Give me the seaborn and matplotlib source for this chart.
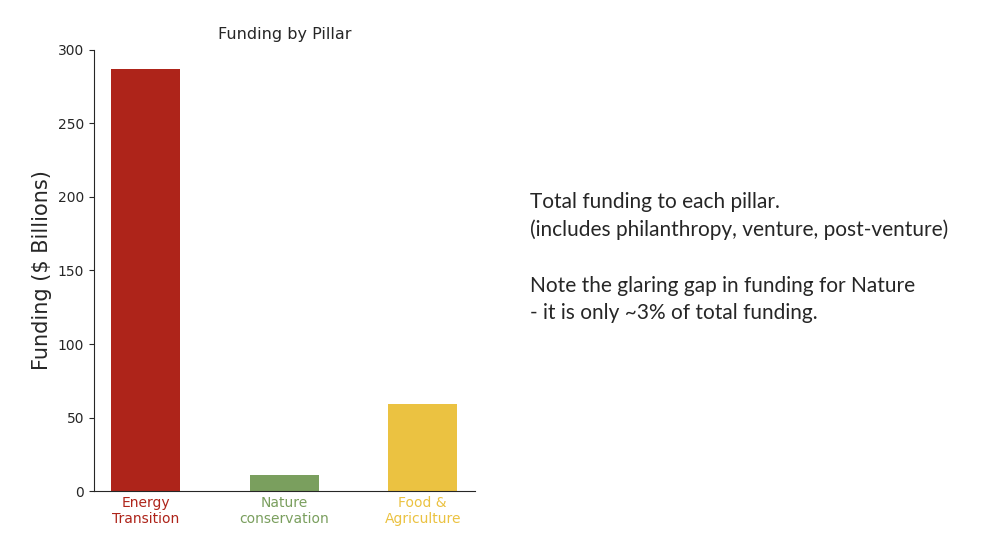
import matplotlib
matplotlib.use("Agg")
import matplotlib.pyplot as plt
import seaborn as sns
import pandas as pd

# ------------------------
# DATA
# ------------------------
pillars = ["Energy\nTransition", "Nature\nconservation", "Food &\nAgriculture"]
funding = [287, 11, 59]
colors = ["#AE241A", "#7A9F5E", "#EBC241"]

note_lines = [
    "Total funding to each pillar.",
    "(includes philanthropy, venture, post-venture)",
    "",
    "Note the glaring gap in funding for Nature",
    "- it is only ~3% of total funding.",
]

df = pd.DataFrame({"pillar": pillars, "funding": funding})

# ------------------------
# PLOT
# ------------------------
sns.set_style("ticks")
plt.rcParams["font.family"] = ["DejaVu Sans"]

fig = plt.figure(figsize=(9.81, 5.52), dpi=100)
ax = fig.add_axes([0.0958, 0.11, 0.388, 0.80])

sns.barplot(data=df, x="pillar", y="funding", hue="pillar", palette=colors,
            width=0.5, saturation=1, legend=False, linewidth=0, ax=ax)

ax.set_ylim(0, 300)
ax.set_xlim(-0.375, 2.375)
ax.set_xlabel("")
ax.set_ylabel("Funding ($ Billions)", fontsize=15)
ax.set_title("Funding by Pillar", fontsize=11.5, pad=8)
ax.tick_params(axis="both", labelsize=10)
ax.tick_params(axis="x", length=0)
for lbl, c in zip(ax.get_xticklabels(), colors):
    lbl.set_color(c)
sns.despine(ax=ax)

fig.text(0.54, 0.652, "\n".join(note_lines), fontsize=15, family="Lato",
         va="top", ha="left", linespacing=1.47)

fig.savefig("out.png", dpi=100)
